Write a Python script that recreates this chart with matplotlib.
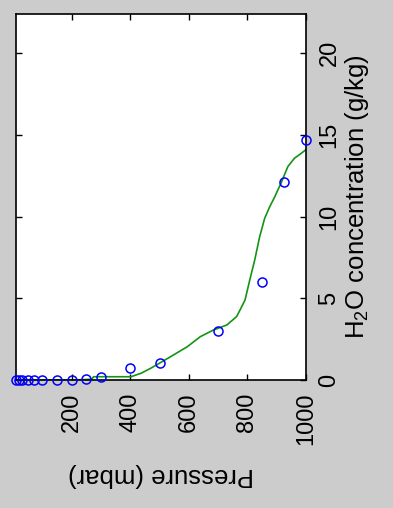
import matplotlib
matplotlib.use("Agg")
import matplotlib.pyplot as plt

# Observed water-vapour profile at standard pressure levels
obs_pressure = [10, 20, 30, 50, 70, 100, 150, 200, 250, 300, 400, 500, 700, 850, 925, 1000]
obs_h2o = [0.0, 0.0, 0.0, 0.0, 0.0, 0.005, 0.01, 0.02, 0.04, 0.2, 0.71, 1.06, 3.02, 6.0, 12.1, 14.7]

# Model profile
model_pressure = [10, 50, 100, 150, 200, 250, 268, 275, 300, 350, 403, 420, 437, 470, 499,
                  538, 595, 639, 684, 730, 763, 775, 792, 808, 825, 842, 859, 876, 893,
                  916, 938, 961, 977, 1000]
model_h2o = [0.0, 0.0, 0.0, 0.0, 0.0, 0.03, 0.05, 0.2, 0.2, 0.2, 0.2, 0.31, 0.41, 0.72, 1.02,
             1.43, 2.04, 2.65, 3.06, 3.37, 3.88, 4.29, 4.9, 6.12, 7.35, 8.78, 9.9, 10.6, 11.2,
             12.1, 13.06, 13.58, 13.78, 14.1]

x_ticks = [200, 400, 600, 800, 1000]
y_ticks = [0, 5, 10, 15, 20]

plt.rcParams["font.family"] = ["Liberation Sans", "DejaVu Sans"]
plt.rcParams["mathtext.fontset"] = "custom"
plt.rcParams["mathtext.rm"] = "Liberation Sans"

fig = plt.figure(figsize=(3.93, 5.08), dpi=100, facecolor="#cccccc")
ax = fig.add_axes([16 / 393, 1 - 380 / 508, 290 / 393, 366 / 508])
ax.set_facecolor("white")

ax.plot(model_pressure, model_h2o, color="#139413", lw=1.2, zorder=2)
ax.plot(obs_pressure, obs_h2o, "o", mfc="none", mec="#0000ff", mew=1.1, ms=6.5,
        clip_on=False, zorder=3)

ax.set_xlim(10, 1000)
ax.set_ylim(0, 22.4)
ax.set_xticks(x_ticks)
ax.set_yticks(y_ticks)

ax.yaxis.tick_right()
ax.yaxis.set_label_position("right")
ax.tick_params(axis="both", direction="in", length=4, width=1, color="black",
               top=True, bottom=True, left=True, right=True,
               labelsize=17, pad=9)
ax.tick_params(axis="y", labelleft=False, labelright=True)
for lab in ax.get_xticklabels():
    lab.set_rotation(90)
for lab in ax.get_yticklabels():
    lab.set_rotation(90)
    lab.set_va("center")

for s in ax.spines.values():
    s.set_linewidth(1.2)
    s.set_color("black")

ax.set_xlabel("Pressure (mbar)", fontsize=18.5, rotation=180, labelpad=13)
ax.set_ylabel(r"H$_\mathregular{2}$O concentration (g/kg)", fontsize=18.5,
              rotation=90, labelpad=2)

fig.savefig("out.png", dpi=100, facecolor=fig.get_facecolor())
